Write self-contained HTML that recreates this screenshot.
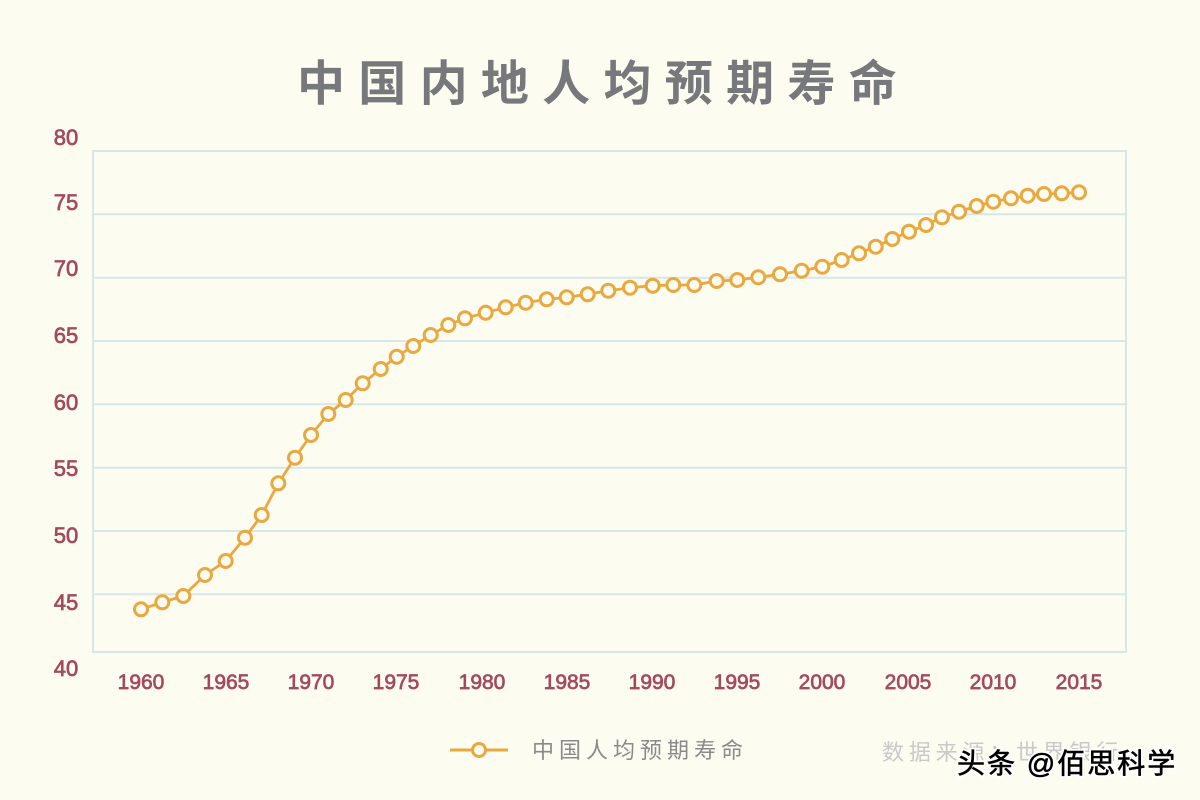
<!DOCTYPE html>
<html><head><meta charset="utf-8"><style>
html,body{margin:0;padding:0;background:#fdfcf1;}
svg{display:block;}
</style></head><body>
<svg width="1200" height="800" viewBox="0 0 1200 800" xmlns="http://www.w3.org/2000/svg">
<rect x="0" y="0" width="1200" height="800" fill="#fdfcf1"/>
<text x="297" y="100" font-family="'Liberation Sans','Noto Sans CJK SC',sans-serif" font-weight="bold" font-size="48" letter-spacing="13.3" fill="#77787b">中国内地人均预期寿命</text>
<g stroke="#d6e7e9" stroke-width="2" fill="none">
<rect x="93" y="151" width="1033" height="501"/>
<line x1="93" y1="214.3" x2="1126" y2="214.3"/>
<line x1="93" y1="277.7" x2="1126" y2="277.7"/>
<line x1="93" y1="341" x2="1126" y2="341"/>
<line x1="93" y1="404.3" x2="1126" y2="404.3"/>
<line x1="93" y1="467.7" x2="1126" y2="467.7"/>
<line x1="93" y1="531" x2="1126" y2="531"/>
<line x1="93" y1="594.3" x2="1126" y2="594.3"/>
</g>
<g font-family="'Liberation Sans',sans-serif" font-size="22" fill="#a34a5c" stroke="#a34a5c" stroke-width="0.7" text-anchor="middle">
<text x="66" y="145">80</text>
<text x="66" y="210">75</text>
<text x="66" y="276">70</text>
<text x="66" y="343">65</text>
<text x="66" y="410">60</text>
<text x="66" y="476">55</text>
<text x="66" y="543">50</text>
<text x="66" y="610">45</text>
<text x="66" y="676">40</text>
</g>
<g font-family="'Liberation Sans',sans-serif" font-size="21" fill="#a34a5c" stroke="#a34a5c" stroke-width="0.7" text-anchor="middle">
<text x="141" y="689">1960</text>
<text x="226" y="689">1965</text>
<text x="311" y="689">1970</text>
<text x="396" y="689">1975</text>
<text x="482" y="689">1980</text>
<text x="567" y="689">1985</text>
<text x="652" y="689">1990</text>
<text x="737" y="689">1995</text>
<text x="822" y="689">2000</text>
<text x="908" y="689">2005</text>
<text x="993" y="689">2010</text>
<text x="1079" y="689">2015</text>
</g>
<polyline fill="none" stroke="#e9a940" stroke-width="2.8" stroke-linejoin="round" points="141,609.3 162.3,602.3 183.3,596 205,575 225.7,561 245,537.7 261.7,515 278.3,483.3 295,457.7 311,435 328.3,414 345.7,400 362.7,383.3 380.7,369 396.7,356.7 413.3,346 430.7,335 448.3,325 465,318.3 485.7,312.7 505.7,307.3 525.7,302.7 546.7,299.3 566.7,297.3 587.7,294.3 608.3,290.7 630,287.7 652.7,285.7 673.3,285 694.3,285 716.7,281 737.3,280 758.3,277.3 780,274.3 801.7,270.7 822.3,266.7 841.7,260 859,253.3 875.7,246.7 892.3,239 909,231.7 926,225 942,217.3 959,211.7 976.7,206 993.3,201.7 1011,198.3 1027.7,195.7 1044,194 1061.7,193.3 1079,192.3"/>
<g fill="#fdfcf1" stroke="#e9a940" stroke-width="3">
<circle cx="141" cy="609.3" r="6.5"/><circle cx="162.3" cy="602.3" r="6.5"/><circle cx="183.3" cy="596" r="6.5"/><circle cx="205" cy="575" r="6.5"/><circle cx="225.7" cy="561" r="6.5"/><circle cx="245" cy="537.7" r="6.5"/><circle cx="261.7" cy="515" r="6.5"/><circle cx="278.3" cy="483.3" r="6.5"/><circle cx="295" cy="457.7" r="6.5"/><circle cx="311" cy="435" r="6.5"/><circle cx="328.3" cy="414" r="6.5"/><circle cx="345.7" cy="400" r="6.5"/><circle cx="362.7" cy="383.3" r="6.5"/><circle cx="380.7" cy="369" r="6.5"/><circle cx="396.7" cy="356.7" r="6.5"/><circle cx="413.3" cy="346" r="6.5"/><circle cx="430.7" cy="335" r="6.5"/><circle cx="448.3" cy="325" r="6.5"/><circle cx="465" cy="318.3" r="6.5"/><circle cx="485.7" cy="312.7" r="6.5"/><circle cx="505.7" cy="307.3" r="6.5"/><circle cx="525.7" cy="302.7" r="6.5"/><circle cx="546.7" cy="299.3" r="6.5"/><circle cx="566.7" cy="297.3" r="6.5"/><circle cx="587.7" cy="294.3" r="6.5"/><circle cx="608.3" cy="290.7" r="6.5"/><circle cx="630" cy="287.7" r="6.5"/><circle cx="652.7" cy="285.7" r="6.5"/><circle cx="673.3" cy="285" r="6.5"/><circle cx="694.3" cy="285" r="6.5"/><circle cx="716.7" cy="281" r="6.5"/><circle cx="737.3" cy="280" r="6.5"/><circle cx="758.3" cy="277.3" r="6.5"/><circle cx="780" cy="274.3" r="6.5"/><circle cx="801.7" cy="270.7" r="6.5"/><circle cx="822.3" cy="266.7" r="6.5"/><circle cx="841.7" cy="260" r="6.5"/><circle cx="859" cy="253.3" r="6.5"/><circle cx="875.7" cy="246.7" r="6.5"/><circle cx="892.3" cy="239" r="6.5"/><circle cx="909" cy="231.7" r="6.5"/><circle cx="926" cy="225" r="6.5"/><circle cx="942" cy="217.3" r="6.5"/><circle cx="959" cy="211.7" r="6.5"/><circle cx="976.7" cy="206" r="6.5"/><circle cx="993.3" cy="201.7" r="6.5"/><circle cx="1011" cy="198.3" r="6.5"/><circle cx="1027.7" cy="195.7" r="6.5"/><circle cx="1044" cy="194" r="6.5"/><circle cx="1061.7" cy="193.3" r="6.5"/><circle cx="1079" cy="192.3" r="6.5"/>
</g>
<line x1="450" y1="750" x2="508" y2="750" stroke="#e9a940" stroke-width="3"/>
<circle cx="479" cy="750" r="6.5" fill="#fdfcf1" stroke="#e9a940" stroke-width="3"/>
<text x="532" y="758" font-family="'Liberation Sans','Noto Sans CJK SC',sans-serif" font-size="22" letter-spacing="5" fill="#8a8a8a">中国人均预期寿命</text>
<text x="882" y="760" font-family="'Liberation Sans','Noto Sans CJK SC',sans-serif" font-size="22" letter-spacing="4.8" fill="#c9c9c9">数据来源：世界银行</text>
<text x="957" y="773" font-family="'Liberation Sans','Noto Sans CJK SC',sans-serif" font-size="28" fill="#000" stroke="#ffffff" stroke-width="4" paint-order="stroke" letter-spacing="2">头条 @佰思科学</text>
<text x="957" y="773" font-family="'Liberation Sans','Noto Sans CJK SC',sans-serif" font-size="28" fill="#000" stroke="#000" stroke-width="0.6" letter-spacing="2">头条 @佰思科学</text>
</svg>
</body></html>
